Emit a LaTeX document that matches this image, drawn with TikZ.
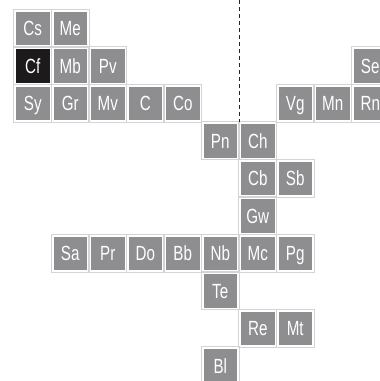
\documentclass[tikz,border=0pt]{standalone}
\usepackage{fontspec}
\setmainfont{Liberation Sans}
\definecolor{cellgray}{RGB}{142,142,144}
\definecolor{celldark}{RGB}{28,26,27}
\definecolor{outl}{RGB}{212,212,212}
\newcommand{\narrowtxt}[1]{\scalebox{0.74}[1]{#1}}
\tikzset{
  cell/.style={rectangle, inner sep=0pt, minimum width=33.5pt, minimum height=33.5pt,
    text=white, font=\fontsize{20.5}{20.5}\selectfont, text height=14.7pt, text depth=0pt},
  outline/.style={draw=outl, line width=0.9pt},
  divider/.style={draw=black!85, line width=0.8pt, dash pattern=on 4pt off 3pt}
}
\begin{document}
\begin{tikzpicture}[x=1pt,y=1pt]
\useasboundingbox (0,0) rectangle (380,-381);
\clip (0,0) rectangle (380,-381);
\foreach \n/\c/\r/\f in {
  Cs/0/0/cellgray, Me/1/0/cellgray,
  Cf/0/1/celldark, Mb/1/1/cellgray, Pv/2/1/cellgray, Se/9/1/cellgray,
  Sy/0/2/cellgray, Gr/1/2/cellgray, Mv/2/2/cellgray, C/3/2/cellgray, Co/4/2/cellgray,
  Vg/7/2/cellgray, Mn/8/2/cellgray, Rn/9/2/cellgray,
  Pn/5/3/cellgray, Ch/6/3/cellgray,
  Cb/6/4/cellgray, Sb/7/4/cellgray,
  Gw/6/5/cellgray,
  Sa/1/6/cellgray, Pr/2/6/cellgray, Do/3/6/cellgray, Bb/4/6/cellgray, Nb/5/6/cellgray,
  Mc/6/6/cellgray, Pg/7/6/cellgray,
  Te/5/7/cellgray,
  Re/6/8/cellgray, Mt/7/8/cellgray,
  Bl/5/9/cellgray}
{
  \node[cell, fill=\f] (\n) at ({32.75+37.5*\c},{-28.25-37.5*\r}) {\narrowtxt{\n}};
  \draw[outline] ([xshift=-2pt,yshift=2pt]\n.north west) rectangle ([xshift=2pt,yshift=-2pt]\n.south east);
}
\coordinate (dtop) at (239,0);
\coordinate (dbot) at (239,-122);
\draw[divider] (dtop) -- (dbot);
\end{tikzpicture}
\end{document}
